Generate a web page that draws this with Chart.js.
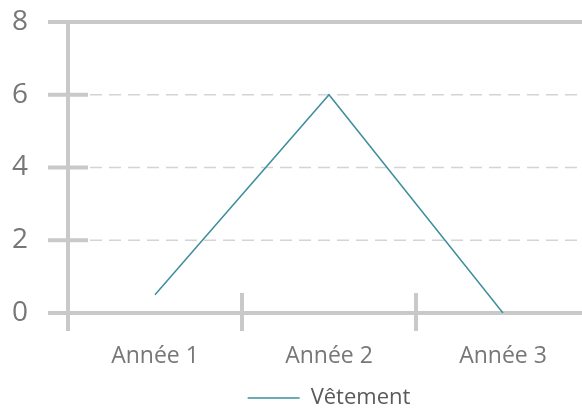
<!DOCTYPE html>
<html>
<head>
<meta charset="utf-8">
<script src="https://cdn.jsdelivr.net/npm/chart.js@4.4.1/dist/chart.umd.min.js"></script>
<style>
html,body{margin:0;padding:0;background:#fff;overflow:hidden;}
#wrap{position:relative;width:600px;height:419px;}
</style>
</head>
<body>
<div id="wrap"><canvas id="c"></canvas></div>
<script>
const categories = ['Année 1', 'Année 2', 'Année 3'];
const seriesName = 'Vêtement';
const seriesValues = [0.5, 6, 0];
const yTicks = [0, 2, 4, 6, 8];

const axisGrey = '#c9c9c9';
const lineColor = '#3d8f9d';

const axisPlugin = {
  id: 'axisPlugin',
  beforeDatasetsDraw(chart) {
    const ctx = chart.ctx;
    const x = chart.scales.x, y = chart.scales.y;
    const left = x.left, right = chart.width, top = y.top, bottom = y.bottom;
    ctx.save();
    ctx.lineCap = 'butt';
    yTicks.forEach(v => {
      const py = y.getPixelForValue(v);
      if (v === yTicks[0] || v === yTicks[yTicks.length - 1]) {
        ctx.strokeStyle = axisGrey; ctx.lineWidth = 4; ctx.setLineDash([]);
        ctx.beginPath(); ctx.moveTo(left - 20, py); ctx.lineTo(right, py); ctx.stroke();
      } else {
        ctx.strokeStyle = axisGrey; ctx.lineWidth = 4; ctx.setLineDash([]);
        ctx.beginPath(); ctx.moveTo(left - 20, py); ctx.lineTo(left + 20, py); ctx.stroke();
        ctx.strokeStyle = '#d4d4d4'; ctx.lineWidth = 1.5; ctx.setLineDash([12, 7]);
        ctx.beginPath(); ctx.moveTo(left + 22, py); ctx.lineTo(right, py); ctx.stroke();
      }
    });
    ctx.setLineDash([]);
    ctx.strokeStyle = axisGrey; ctx.lineWidth = 4;
    ctx.beginPath(); ctx.moveTo(left, top - 2); ctx.lineTo(left, bottom + 18); ctx.stroke();
    for (let i = 1; i < categories.length; i++) {
      const px = (x.getPixelForValue(i - 1) + x.getPixelForValue(i)) / 2;
      ctx.beginPath(); ctx.moveTo(px, bottom - 20); ctx.lineTo(px, bottom + 18); ctx.stroke();
    }
    ctx.restore();
  }
};

new Chart(document.getElementById('c'), {
  type: 'line',
  data: {
    labels: categories,
    datasets: [{
      label: seriesName,
      data: seriesValues,
      borderColor: lineColor,
      backgroundColor: lineColor,
      borderWidth: 1.5,
      pointRadius: 0,
      tension: 0
    }]
  },
  options: {
    responsive: true,
    maintainAspectRatio: false,
    animation: false,
    layout: { padding: { top: 22, right: 10, left: 0, bottom: 0 } },
    scales: {
      x: {
        offset: true,
        grid: { display: false, drawTicks: false },
        border: { display: false },
        ticks: { color: '#777777', font: { family: 'Open Sans', size: 23 }, padding: 30, maxRotation: 0 },
        afterFit(s) { s.height = 70; s.paddingLeft = 0; s.paddingRight = 0; }
      },
      y: {
        min: 0, max: 8,
        grid: { display: false, drawTicks: false },
        border: { display: false },
        ticks: { stepSize: 2, color: '#777777', font: { family: 'Open Sans', size: 28 }, padding: 40 },
        afterFit(s) { s.width = 68; s.paddingTop = 0; s.paddingBottom = 0; }
      }
    },
    plugins: {
      legend: {
        position: 'bottom',
        fullSize: false,
        labels: {
          color: '#5a5a5a',
          font: { family: 'Open Sans', size: 22 },
          boxWidth: 52,
          boxHeight: 1.5,
          padding: 4,
          generateLabels(chart) {
            return chart.data.datasets.map((d, i) => ({
              text: d.label, fillStyle: d.borderColor, strokeStyle: d.borderColor,
              lineWidth: 0, datasetIndex: i, fontColor: '#5a5a5a'
            }));
          }
        }
      },
      tooltip: { enabled: false }
    }
  },
  plugins: [axisPlugin]
});
</script>
</body>
</html>
